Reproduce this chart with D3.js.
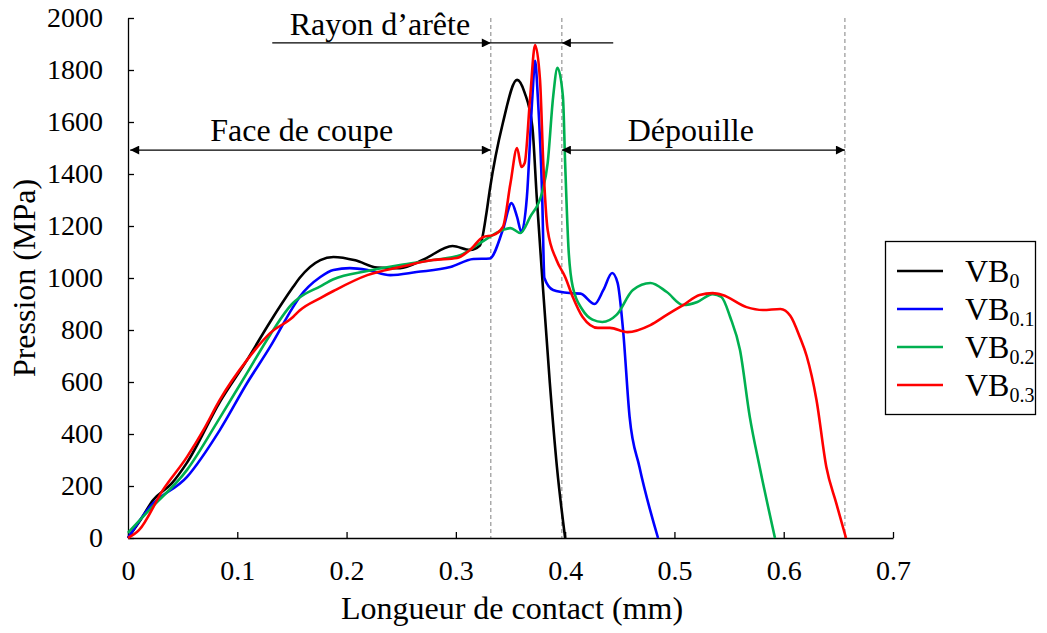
<!DOCTYPE html>
<html><head><meta charset="utf-8">
<script src="https://cdn.jsdelivr.net/npm/d3@7"></script>
<style>body{margin:0;background:#fff}svg{display:block}text{font-family:"Liberation Serif","Times New Roman",serif;fill:#000}</style>
</head><body><svg id="c" width="1047" height="633"></svg>
<script>
const xTicks = [0, 0.1, 0.2, 0.3, 0.4, 0.5, 0.6, 0.7];
const yTicks = [0, 200, 400, 600, 800, 1000, 1200, 1400, 1600, 1800, 2000];
const seriesNames = ["0", "0.1", "0.2", "0.3"];
const seriesColors = ["#000000", "#0000ff", "#00b050", "#ff0000"];
const vb0 = [[0,0],[0.01,60],[0.023,146],[0.04,210],[0.054,290],[0.084,523],[0.109,685],[0.13,831],[0.151,965],[0.157,1000],[0.176,1069],[0.188,1081],[0.208,1068],[0.228,1040],[0.249,1038],[0.27,1070],[0.297,1123],[0.313,1108],[0.322,1125],[0.328,1250],[0.331,1338],[0.343,1596],[0.356,1762],[0.363,1712],[0.370,1581],[0.374,1312],[0.379,1004],[0.386,596],[0.3925,273],[0.40,0]];
const vb01 = [[0,0],[0.02,120],[0.054,235],[0.084,415],[0.109,596],[0.13,735],[0.151,888],[0.157,927],[0.176,1004],[0.188,1031],[0.203,1038],[0.22,1030],[0.24,1011],[0.264,1023],[0.295,1042],[0.316,1073],[0.331,1075],[0.343,1185],[0.351,1288],[0.356,1235],[0.360,1177],[0.365,1312],[0.370,1696],[0.3725,1835],[0.375,1696],[0.379,1312],[0.381,1000],[0.389,954],[0.404,942],[0.414,940],[0.427,900],[0.435,954],[0.443,1019],[0.448,981],[0.453,800],[0.459,465],[0.468,273],[0.485,0]];
const vb02 = [[0,20],[0.02,110],[0.054,262],[0.084,462],[0.109,635],[0.13,781],[0.151,904],[0.157,925],[0.176,968],[0.188,995],[0.219,1027],[0.249,1050],[0.279,1069],[0.304,1088],[0.322,1134],[0.343,1185],[0.35,1192],[0.359,1173],[0.368,1235],[0.379,1331],[0.384,1442],[0.389,1696],[0.393,1808],[0.398,1696],[0.400,1442],[0.403,1119],[0.407,965],[0.416,877],[0.425,840],[0.434,831],[0.447,858],[0.462,954],[0.478,981],[0.493,946],[0.508,896],[0.521,908],[0.535,938],[0.543,927],[0.551,850],[0.56,723],[0.569,465],[0.578,273],[0.592,0]];
const vb03 = [[0,0],[0.01,30],[0.032,185],[0.054,312],[0.069,415],[0.084,531],[0.109,685],[0.13,788],[0.151,850],[0.157,875],[0.176,923],[0.188,950],[0.219,1011],[0.249,1042],[0.279,1069],[0.301,1077],[0.313,1108],[0.325,1158],[0.334,1165],[0.343,1196],[0.35,1365],[0.356,1500],[0.360,1427],[0.363,1442],[0.368,1696],[0.3725,1896],[0.377,1762],[0.380,1442],[0.384,1185],[0.392,1070],[0.40,1004],[0.407,927],[0.416,850],[0.43,808],[0.441,808],[0.457,792],[0.478,819],[0.493,858],[0.508,896],[0.523,935],[0.535,942],[0.544,935],[0.566,888],[0.581,877],[0.597,881],[0.606,855],[0.615,770],[0.621,700],[0.630,531],[0.639,273],[0.648,135],[0.657,0]];
const seriesData = [vb0, vb01, vb02, vb03];
const zoneBounds = [0, 0.332, 0.397, 0.656];
const zoneLabels = ["Face de coupe", "Rayon d’arête", "Dépouille"];

const svg = d3.select("#c");
const x = d3.scaleLinear().domain([0, 0.7]).range([128, 893]);
const y = d3.scaleLinear().domain([0, 2000]).range([538, 18]);

// dashed zone lines
svg.selectAll("line.zone").data(zoneBounds.slice(1)).enter().append("line")
  .attr("x1", d => x(d)).attr("x2", d => x(d)).attr("y1", y(2000)).attr("y2", y(0))
  .attr("stroke", "#808080").attr("stroke-width", 1).attr("stroke-dasharray", "4,3");

// axes
const xAxis = d3.axisBottom(x).tickValues(xTicks).tickSizeInner(-6).tickSizeOuter(0).tickPadding(22)
  .tickFormat(d => d === 0 ? "0" : d3.format(".1f")(d));
const gx = svg.append("g").attr("transform", `translate(0,${y(0)})`).call(xAxis);
const yAxis = d3.axisLeft(y).tickValues(yTicks).tickSizeInner(-6).tickSizeOuter(0).tickPadding(25).tickFormat(d3.format("d"));
const gy = svg.append("g").attr("transform", `translate(${x(0)},0)`).call(yAxis);
[gx, gy].forEach(g => {
  g.selectAll("path,line").attr("stroke", "#000").attr("stroke-width", 1.3);
  g.selectAll("text").style("font-family", '"Liberation Serif",serif').style("font-size", "28px").attr("fill", "#000");
});

svg.append("text").attr("x", 512).attr("y", 619).attr("text-anchor", "middle").style("font-size", "32px").text("Longueur de contact (mm)");
svg.append("text").attr("transform", "translate(35,278) rotate(-90)").attr("text-anchor", "middle").style("font-size", "32px").text("Pression (MPa)");

// curves
const line = d3.line().x(d => x(d[0])).y(d => y(d[1])).curve(d3.curveMonotoneX);
svg.selectAll("path.s").data(seriesData).enter().append("path")
  .attr("d", line).attr("fill", "none").attr("stroke", (d, i) => seriesColors[i]).attr("stroke-width", 2.6)
  .attr("stroke-linejoin", "round");

// arrows
const defs = svg.append("defs");
defs.append("marker").attr("id", "ah").attr("viewBox", "0 0 10 10").attr("refX", 10).attr("refY", 5)
  .attr("markerWidth", 13).attr("markerHeight", 9).attr("markerUnits", "userSpaceOnUse").attr("orient", "auto-start-reverse")
  .append("path").attr("d", "M0,0 L10,5 L0,10 Z").attr("fill", "#000");
function arrow(x1, x2, yv, start, end) {
  const l = svg.append("line").attr("x1", x(x1)).attr("x2", x(x2)).attr("y1", y(yv)).attr("y2", y(yv))
    .attr("stroke", "#000").attr("stroke-width", 1.3);
  if (start) l.attr("marker-start", "url(#ah)");
  if (end) l.attr("marker-end", "url(#ah)");
}
arrow(0.002, zoneBounds[1], 1492, true, true);
arrow(zoneBounds[2], zoneBounds[3], 1492, true, true);
arrow(0.132, zoneBounds[1], 1904, false, true);
arrow(zoneBounds[1], zoneBounds[2], 1904, false, false);
arrow(0.444, zoneBounds[2], 1904, false, true);

svg.append("text").attr("x", x(0.159)).attr("y", 141).attr("text-anchor", "middle").style("font-size", "32px").text(zoneLabels[0]);
svg.append("text").attr("x", x(0.2305)).attr("y", 35).attr("text-anchor", "middle").style("font-size", "32px").text(zoneLabels[1]);
svg.append("text").attr("x", x(0.515)).attr("y", 141).attr("text-anchor", "middle").style("font-size", "32px").text(zoneLabels[2]);

// legend
const lg = svg.append("g");
lg.append("rect").attr("x", 885.5).attr("y", 241.5).attr("width", 150).attr("height", 173)
  .attr("fill", "#fff").attr("stroke", "#000").attr("stroke-width", 1.3);
const ly = [271, 309, 347, 385];
seriesNames.forEach((n, i) => {
  lg.append("line").attr("x1", 897).attr("x2", 943).attr("y1", ly[i]).attr("y2", ly[i])
    .attr("stroke", seriesColors[i]).attr("stroke-width", 2.6);
  const t = lg.append("text").attr("x", 965).attr("y", ly[i] + 11).style("font-size", "32px");
  t.append("tspan").text("VB");
  t.append("tspan").attr("dy", 6).style("font-size", "20px").text(n);
});
</script></body></html>
